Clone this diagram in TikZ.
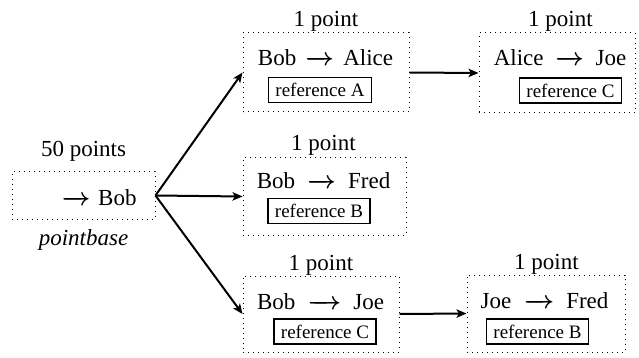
\documentclass[tikz,border=0pt]{standalone}
\usepackage{fontspec}
\setmainfont{Liberation Serif}
\usetikzlibrary{arrows.meta}
\newcommand\txtarr[1]{\makebox[#1]{\boldmath\rightarrowfill}}
\newcommand\pair[3]{#1\hspace{12pt}\txtarr{#3}\hspace{12pt}#2}
\tikzset{
  holder/.style={draw, dash pattern=on 1pt off 4pt, line width=1pt, inner sep=0pt},
  reftag/.style={draw, line width=1.8pt, inner xsep=7pt, inner ysep=0pt, minimum height=25pt, font=\fontsize{19}{22}\selectfont},
  maintxt/.style={anchor=base, inner sep=0pt, font=\fontsize{23}{26}\selectfont},
  link/.style={line width=2pt, -{Stealth[length=10pt, width=8.4pt, inset=2.4pt]}}
}
\begin{document}
\begin{tikzpicture}[x=1pt,y=-1pt]
\useasboundingbox (0,0) rectangle (639,358);
% boxes
\node[holder, minimum width=143pt, minimum height=47pt] (P) at (83.5,195.5) {};
\node[holder, minimum width=166pt, minimum height=79pt] (A) at (326,72.5) {};
\node[holder, minimum width=156pt, minimum height=80pt] (C) at (557,73) {};
\node[holder, minimum width=163pt, minimum height=77pt] (B) at (324.5,196.5) {};
\node[holder, minimum width=156pt, minimum height=76pt] (D) at (321,314) {};
\node[holder, minimum width=158pt, minimum height=77pt] (E) at (546,313.5) {};
% pointbase
\node[maintxt] (pts) at (83.5,157) {50 points};
\node[maintxt, anchor=base west] (pbob) at (65,205) {\txtarr{22pt}\hspace{11pt}Bob};
\node[maintxt] (pbase) at (83.5,245) {\itshape pointbase};
% A
\node[maintxt] (Ap) at (326,27) {1 point};
\node[maintxt] (At) at (325.5,66) {\pair{Bob}{Alice}{23pt}};
\node[reftag] (Ar) at (320,90) {reference A};
% C
\node[maintxt] (Cp) at (560.5,27) {1 point};
\node[maintxt] (Ct) at (560,66) {\pair{Alice}{Joe}{28pt}};
\node[reftag] (Cr) at (570.5,90.5) {reference C};
% B
\node[maintxt] (Bp) at (323.5,150) {1 point};
\node[maintxt] (Bt) at (323.5,188) {\pair{Bob}{Fred}{29pt}};
\node[reftag] (Br) at (319,211) {reference B};
% D
\node[maintxt] (Dp) at (321,270) {1 point};
\node[maintxt] (Dt) at (320.5,309) {\pair{Bob}{Joe}{34pt}};
\node[reftag] (Dr) at (325,331.5) {reference C};
% E
\node[maintxt] (Ep) at (546.5,269) {1 point};
\node[maintxt] (Et) at (544.5,308) {\pair{Joe}{Fred}{31pt}};
\node[reftag] (Er) at (537.5,331.5) {reference B};
% connectors
\draw[link] (P.east) -- (A.west);
\draw[link] (P.east) -- (B.west);
\draw[link] (P.east) -- (D.west);
\draw[link] (A.east) -- (C.west);
\draw[link] (D.east) -- (E.west);
\end{tikzpicture}
\end{document}
